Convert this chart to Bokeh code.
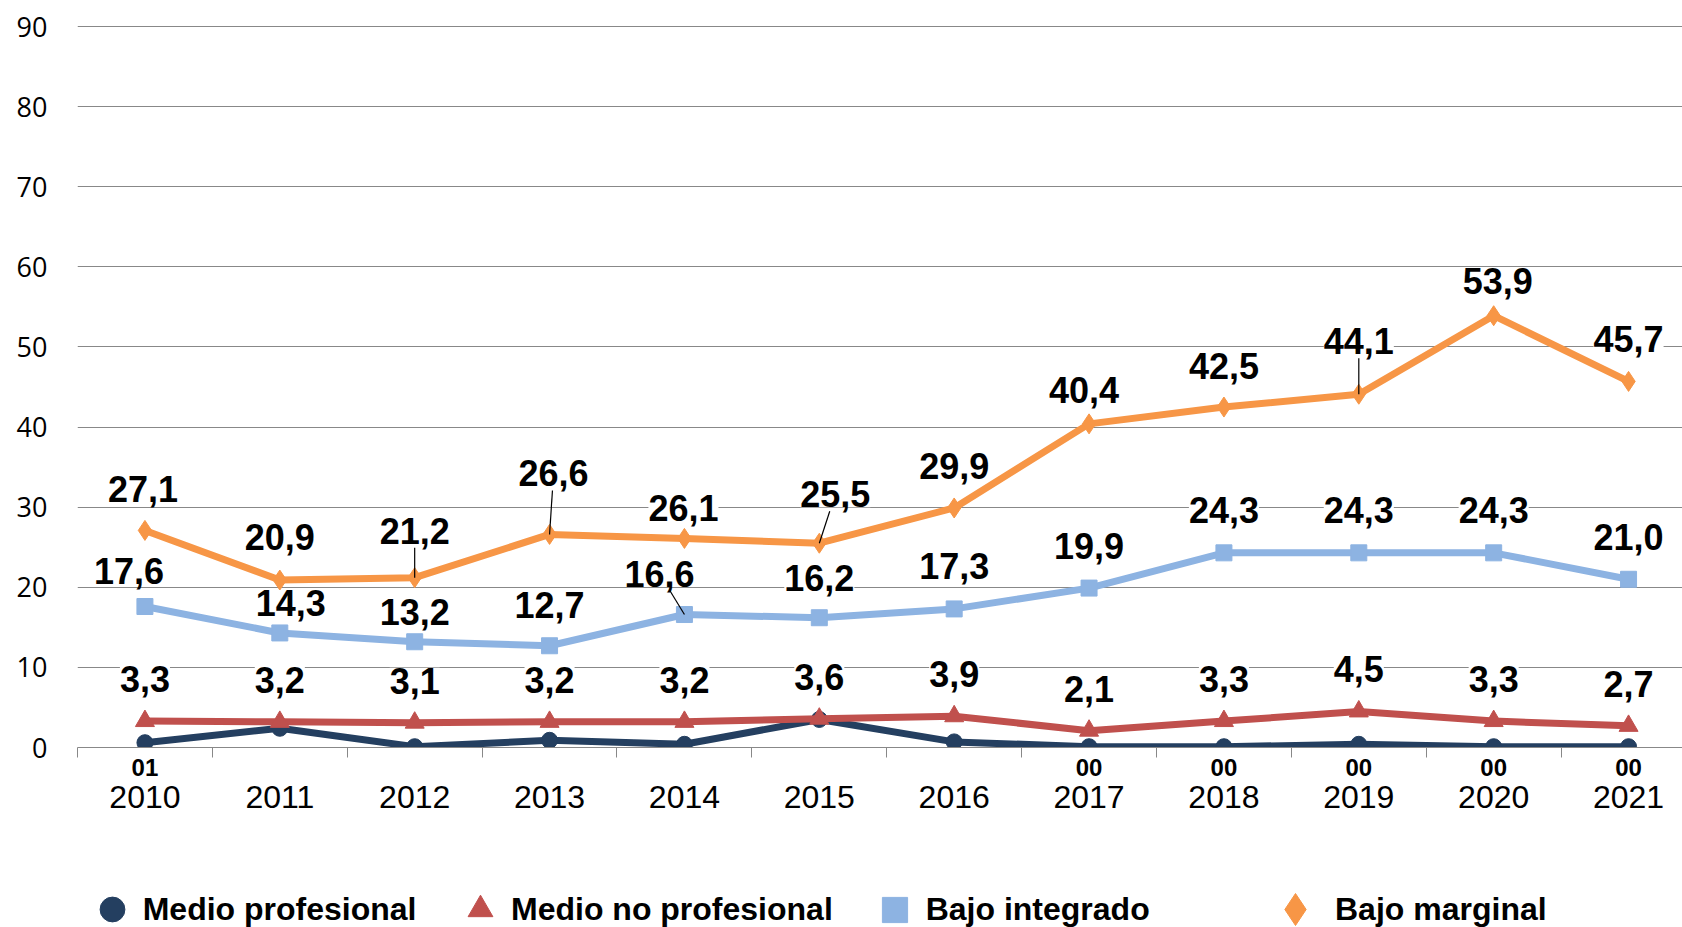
from bokeh.plotting import figure
from bokeh.models import (ColumnDataSource, LabelSet, Legend, LegendItem,
                          FixedTicker, Range1d, LinearAxis)
from bokeh.layouts import column
from bokeh.core.properties import value
from bokeh.embed import file_html
from bokeh.resources import INLINE

years = ["2010", "2011", "2012", "2013", "2014", "2015", "2016", "2017", "2018", "2019", "2020", "2021"]
medio_prof = [0.6, 2.4, 0.1, 0.9, 0.4, 3.5, 0.7, 0.1, 0.1, 0.4, 0.1, 0.1]
medio_prof_lbl = ["01", "", "", "", "", "", "", "00", "00", "00", "00", "00"]
medio_noprof = [3.3, 3.2, 3.1, 3.2, 3.2, 3.6, 3.9, 2.1, 3.3, 4.5, 3.3, 2.7]
bajo_integ = [17.6, 14.3, 13.2, 12.7, 16.6, 16.2, 17.3, 19.9, 24.3, 24.3, 24.3, 21.0]
bajo_marg = [27.1, 20.9, 21.2, 26.6, 26.1, 25.5, 29.9, 40.4, 42.5, 44.1, 53.9, 45.7]
y_ticks = [0, 10, 20, 30, 40, 50, 60, 70, 80, 90]
legend_labels = ["Medio profesional", "Medio no profesional", "Bajo integrado", "Bajo marginal"]

# label placement (screen px offsets of label centre from the point)
marg_dx = [-2, 0, 0, 4, -1, 16, 0, -5, 0, 0, 4, 0]
marg_dy = [41, 43, 47, 61, 30, 49, 42, 34, 41, 53, 35, 42]
marg_leader = [0, 0, 1, 1, 0, 1, 0, 0, 0, 1, 0, 0]
integ_dx = [-16, 11, 0, 0, -25, 0, 0, 0, 0, 0, 0, 0]
integ_dy = [36, 30, 30, 41, 41, 40, 43, 42, 43, 43, 43, 42]
integ_leader = [0, 0, 0, 0, 1, 0, 0, 0, 0, 0, 0, 0]

PX_X = 134.9   # px per category
PX_Y = 8.011   # px per unit on y
HALF_TXT = 17  # half label height, px

def fmt(v):
    return ("%.1f" % v).replace(".", ",")

x = list(range(len(years)))

C_PROF = "#243F60"
C_NOPROF = "#C0504D"
C_INTEG = "#8DB3E2"
C_MARG = "#F79646"

W = 1682
H_MAIN = 870
H_LEG = 57

p = figure(width=W, height=H_MAIN, output_backend="svg", toolbar_location=None,
           x_range=Range1d(-0.5, 11.4), y_range=Range1d(0, 93.25),
           min_border_left=77, min_border_right=0, min_border_top=0,
           min_border_bottom=H_MAIN - 747, outline_line_color=None)
p.background_fill_color = "white"
p.border_fill_color = "white"

# first x axis: tick marks + small data labels of "Medio profesional"
ax0 = p.xaxis[0]
ax0.ticker = FixedTicker(ticks=x, minor_ticks=[i - 0.5 for i in range(13)])
ax0.major_label_overrides = {i: medio_prof_lbl[i] for i in x}
ax0.major_tick_line_color = None
ax0.major_tick_out = 0
ax0.major_tick_in = 0
ax0.minor_tick_line_color = "#888888"
ax0.minor_tick_out = 10
ax0.minor_tick_in = 0
ax0.axis_line_color = "#888888"
ax0.axis_line_width = 1
ax0.major_label_text_font = "Liberation Sans"
ax0.major_label_text_font_size = "24px"
ax0.major_label_text_font_style = "bold"
ax0.major_label_text_color = "black"
ax0.major_label_standoff = 1

# second x axis: years
ax1 = LinearAxis(ticker=FixedTicker(ticks=x),
                 major_label_overrides={i: years[i] for i in x},
                 axis_line_color=None, major_tick_line_color=None,
                 minor_tick_line_color=None, major_tick_out=0, major_tick_in=0,
                 major_label_text_font="Liberation Sans",
                 major_label_text_font_size="32px", major_label_text_color="black",
                 major_label_standoff=7)
p.add_layout(ax1, "below")

p.yaxis.ticker = FixedTicker(ticks=y_ticks)
p.yaxis.axis_line_color = None
p.yaxis.major_tick_line_color = None
p.yaxis.minor_tick_line_color = None
p.yaxis.major_tick_out = 0
p.yaxis.major_label_text_font = "Open Sans"
p.yaxis.major_label_text_font_size = "27px"
p.yaxis.major_label_text_color = "black"
p.yaxis.major_label_standoff = 30

p.xgrid.grid_line_color = None
p.ygrid.grid_line_color = "#888888"
p.ygrid.grid_line_width = 1

src = ColumnDataSource(dict(
    x=x, prof=medio_prof, noprof=medio_noprof, integ=bajo_integ, marg=bajo_marg,
    noprof_lbl=[fmt(v) for v in medio_noprof],
    integ_lbl=[fmt(v) for v in bajo_integ],
    marg_lbl=[fmt(v) for v in bajo_marg],
    marg_dx=marg_dx, marg_dy=marg_dy, integ_dx=integ_dx, integ_dy=integ_dy,
))

# leader lines from point to the bottom of its label
def leaders(xs, ys, dxs, dys, flags):
    x0, y0, x1, y1 = [], [], [], []
    for xi, yi, dx, dy, f in zip(xs, ys, dxs, dys, flags):
        if not f:
            continue
        t = (dy - HALF_TXT) / dy
        x0.append(xi); y0.append(yi)
        x1.append(xi + dx * t / PX_X); y1.append(yi + (dy - HALF_TXT) / PX_Y)
    return dict(x0=x0, y0=y0, x1=x1, y1=y1)

LW = 7
p.line("x", "prof", source=src, line_color=C_PROF, line_width=LW)
p.scatter("x", "prof", source=src, marker="circle", size=16,
          fill_color=C_PROF, line_color=C_PROF)
p.line("x", "noprof", source=src, line_color=C_NOPROF, line_width=LW)
p.scatter("x", "noprof", source=src, marker="triangle", size=19,
          fill_color=C_NOPROF, line_color=C_NOPROF)
p.line("x", "integ", source=src, line_color=C_INTEG, line_width=LW)
p.scatter("x", "integ", source=src, marker="square", size=16,
          fill_color=C_INTEG, line_color=C_INTEG)
p.line("x", "marg", source=src, line_color=C_MARG, line_width=LW)
p.scatter("x", "marg", source=src, marker="diamond", size=20,
          fill_color=C_MARG, line_color=C_MARG)

p.segment("x0", "y0", "x1", "y1", source=ColumnDataSource(
    leaders(x, bajo_marg, marg_dx, marg_dy, marg_leader)),
    line_color="black", line_width=1.2)
p.segment("x0", "y0", "x1", "y1", source=ColumnDataSource(
    leaders(x, bajo_integ, integ_dx, integ_dy, integ_leader)),
    line_color="black", line_width=1.2)

LBL_FONT = "Liberation Sans"
common = dict(source=src, text_font=value(LBL_FONT), text_font_size="36px",
              text_font_style="bold", text_color="black", text_align="center",
              text_baseline="middle", background_fill_color="white")
p.add_layout(LabelSet(x="x", y="marg", text="marg_lbl", x_offset="marg_dx",
                      y_offset="marg_dy", **common))
p.add_layout(LabelSet(x="x", y="integ", text="integ_lbl", x_offset="integ_dx",
                      y_offset="integ_dy", **common))
p.add_layout(LabelSet(x="x", y="noprof", text="noprof_lbl", y_offset=42, **common))

# legend strip (its frame is aligned with the main frame: left edge at 77px)
q = figure(width=W, height=H_LEG, output_backend="svg", toolbar_location=None,
           x_range=Range1d(0, 1), y_range=Range1d(-1000, -999),
           min_border_left=0, min_border_right=0, min_border_top=0,
           min_border_bottom=0, outline_line_color=None,
           x_axis_location=None, y_axis_location=None)
q.xgrid.grid_line_color = None
q.ygrid.grid_line_color = None
q.background_fill_color = "white"
q.border_fill_color = "white"

fields = ["prof", "noprof", "integ", "marg"]
markers = ["circle", "triangle", "square", "diamond"]
colors = [C_PROF, C_NOPROF, C_INTEG, C_MARG]
leg_vx = [3.7, 372, 785.7, 1178]
leg_glyph = [62, 62, 63, 80]
cy = 39
for lab, fld, mk, col, vx, g in zip(legend_labels, fields, markers, colors, leg_vx, leg_glyph):
    r = q.scatter("x", fld, source=src, marker=mk, size=16, fill_color=col, line_color=col)
    leg = Legend(items=[LegendItem(label=lab, renderers=[r])],
                 location=(vx, H_LEG - (cy + g / 2)),
                 glyph_width=g, glyph_height=g, label_standoff=0,
                 padding=0, margin=0, spacing=0,
                 background_fill_alpha=0, border_line_color=None,
                 label_text_font=LBL_FONT, label_text_font_size="32px",
                 label_text_font_style="bold", label_text_color="black")
    q.add_layout(leg)

layout = column(p, q, spacing=0)
open("out.html", "w").write(file_html(layout, INLINE))
